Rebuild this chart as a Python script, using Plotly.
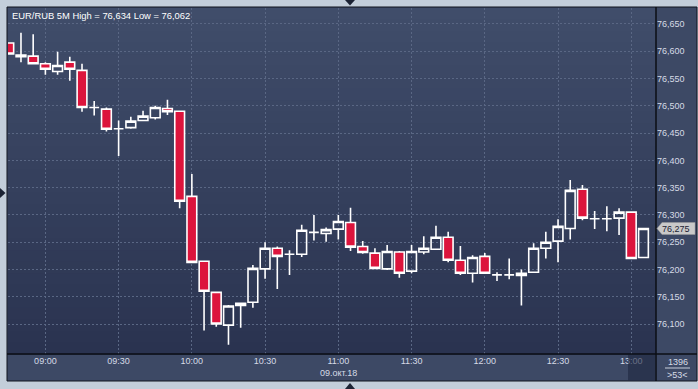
import plotly.graph_objects as go

# ---------------- data ----------------
day = "2018-10-09"
times = ["08:45", "08:50", "08:55", "09:00", "09:05", "09:10", "09:15", "09:20", "09:25",
         "09:30", "09:35", "09:40", "09:45", "09:50", "09:55", "10:00", "10:05", "10:10",
         "10:15", "10:20", "10:25", "10:30", "10:35", "10:40", "10:45", "10:50", "10:55",
         "11:00", "11:05", "11:10", "11:15", "11:20", "11:25", "11:30", "11:35", "11:40",
         "11:45", "11:50", "11:55", "12:00", "12:05", "12:10", "12:15", "12:20", "12:25",
         "12:30", "12:35", "12:40", "12:45", "12:50", "12:55", "13:00", "13:05"]
open_ = [76.615, 76.593, 76.591, 76.577, 76.563, 76.580, 76.565, 76.497, 76.494,
         76.458, 76.460, 76.473, 76.478, 76.495, 76.490, 76.334, 76.215, 76.158,
         76.098, 76.134, 76.140, 76.201, 76.239, 76.228, 76.228, 76.268, 76.266,
         76.274, 76.286, 76.242, 76.230, 76.201, 76.232, 76.197, 76.232, 76.237,
         76.259, 76.217, 76.193, 76.224, 76.190, 76.190, 76.189, 76.195, 76.239,
         76.252, 76.275, 76.347, 76.293, 76.293, 76.294, 76.305, 76.222]
high = [76.615, 76.634, 76.631, 76.580, 76.599, 76.590, 76.577, 76.509, 76.497,
        76.473, 76.480, 76.491, 76.500, 76.511, 76.490, 76.375, 76.215, 76.158,
        76.135, 76.138, 76.208, 76.250, 76.242, 76.235, 76.282, 76.300, 76.277,
        76.300, 76.313, 76.252, 76.239, 76.245, 76.234, 76.245, 76.261, 76.280,
        76.269, 76.243, 76.226, 76.230, 76.195, 76.220, 76.200, 76.248, 76.269,
        76.292, 76.364, 76.355, 76.307, 76.316, 76.312, 76.305, 76.275]
low = [76.595, 76.580, 76.577, 76.557, 76.557, 76.546, 76.489, 76.482, 76.453,
       76.408, 76.458, 76.473, 76.475, 76.483, 76.312, 76.213, 76.088, 76.095,
       76.062, 76.093, 76.130, 76.183, 76.164, 76.190, 76.223, 76.253, 76.251,
       76.255, 76.234, 76.229, 76.202, 76.199, 76.185, 76.193, 76.228, 76.237,
       76.213, 76.190, 76.176, 76.193, 76.179, 76.182, 76.134, 76.195, 76.220,
       76.213, 76.255, 76.290, 76.274, 76.270, 76.263, 76.220, 76.222]
close = [76.595, 76.590, 76.577, 76.567, 76.574, 76.567, 76.497, 76.497, 76.457,
         76.458, 76.472, 76.481, 76.497, 76.489, 76.325, 76.213, 76.160, 76.100,
         76.133, 76.138, 76.202, 76.239, 76.224, 76.228, 76.272, 76.268, 76.273,
         76.288, 76.241, 76.231, 76.202, 76.233, 76.193, 76.233, 76.239, 76.259,
         76.217, 76.193, 76.222, 76.193, 76.190, 76.190, 76.193, 76.239, 76.250,
         76.279, 76.345, 76.294, 76.293, 76.293, 76.305, 76.220, 76.275]

y_ticks = [76.10, 76.15, 76.20, 76.25, 76.30, 76.35, 76.40, 76.45, 76.50, 76.55, 76.60, 76.65]
title_text = "EUR/RUB 5M High = 76,634 Low = 76,062"
date_label = "09.окт.18"
last_price_text = "76,275"
count_text = "1396"
bars_text = ">53<"

x = [f"{day} {t}:00" for t in times]

# ---------------- geometry helpers (pixels -> paper) ----------------
W, H = 698, 389
L, R, T, B = 8, 656, 8, 354


def px(p):
    return (p - L) / (R - L)


def py(p):
    return (B - p) / (B - T)


FONT = "Liberation Sans, Arial, sans-serif"
TXT = "#d6dbe6"
GRID = "#5a6784"
STRIP = "#3d4965"

fig = go.Figure()
fig.add_trace(go.Candlestick(
    x=x, open=open_, high=high, low=low, close=close,
    increasing=dict(line=dict(color="#ffffff", width=1.6), fillcolor="rgba(0,0,0,0)"),
    decreasing=dict(line=dict(color="#ffffff", width=1.6), fillcolor="#dc143c"),
    whiskerwidth=0, hoverinfo="skip", showlegend=False,
))

shapes = []
# outer dark panel (axis strips colour)
shapes.append(dict(type="rect", xref="paper", yref="paper", x0=px(7), x1=px(697), y0=py(381), y1=py(7),
                   fillcolor=STRIP, line=dict(color="#11151f", width=1), layer="below"))
# gradient plot background
top_c = (64, 77, 106)
bot_c = (42, 51, 80)
N = 30
for i in range(N):
    f = (i + 0.5) / N
    c = tuple(round(top_c[k] + (bot_c[k] - top_c[k]) * f) for k in range(3))
    y0 = T + (B - T) * i / N
    y1 = T + (B - T) * (i + 1) / N
    shapes.append(dict(type="rect", xref="paper", yref="paper", x0=0, x1=1, y0=py(y1) - 0.002, y1=py(y0),
                       fillcolor="rgb(%d,%d,%d)" % c, line=dict(width=0), layer="below"))
# separators
shapes.append(dict(type="line", xref="paper", yref="paper", x0=px(656), x1=px(656), y0=py(381), y1=py(7),
                   line=dict(color="#0b0e15", width=1.5), layer="above"))
shapes.append(dict(type="line", xref="paper", yref="paper", x0=px(7), x1=px(697), y0=py(354), y1=py(354),
                   line=dict(color="#0b0e15", width=1.5), layer="above"))
# darker box in x strip near right
shapes.append(dict(type="rect", xref="paper", yref="paper", x0=px(628), x1=px(655), y0=py(380.5), y1=py(355),
                   fillcolor="#1e2740", opacity=0.6, line=dict(width=0), layer="above"))
# line between count texts
shapes.append(dict(type="line", xref="paper", yref="paper", x0=px(665), x1=px(690), y0=py(368), y1=py(368),
                   line=dict(color="#c8cfdc", width=1), layer="above"))
# last price pointer label
path = "M %f,%f L %f,%f L %f,%f L %f,%f L %f,%f Z" % (
    px(657), py(228.5), px(662), py(222.5), px(695), py(222.5), px(695), py(234.5), px(662), py(234.5))
shapes.append(dict(type="path", xref="paper", yref="paper", path=path,
                   fillcolor="#c9c9c9", line=dict(color="#9a9a9a", width=0.5), layer="above"))
# navigation triangles
def tri(a, b, c):
    return "M %f,%f L %f,%f L %f,%f Z" % (px(a[0]), py(a[1]), px(b[0]), py(b[1]), px(c[0]), py(c[1]))

for p in [tri((345, 0), (355, 0), (350, 5.5)),
          tri((345, 389), (355, 389), (350, 383)),
          tri((0, 188), (0, 198), (5.5, 193))]:
    shapes.append(dict(type="path", xref="paper", yref="paper", path=p,
                       fillcolor="#1c2334", line=dict(width=0), layer="above"))

annotations = [
    dict(text=title_text, xref="paper", yref="paper", x=px(10), y=py(15.5), xanchor="left", yanchor="middle",
         showarrow=False, font=dict(family=FONT, size=9.4, color="#ffffff")),
    dict(text=date_label, xref="x", yref="paper", x=f"{day} 11:00:00", y=py(373.5), xanchor="center",
         yanchor="middle", showarrow=False, font=dict(family=FONT, size=9, color=TXT)),
    dict(text=last_price_text, xref="paper", yref="paper", x=px(660), y=py(228.5), xanchor="left",
         yanchor="middle", showarrow=False, font=dict(family=FONT, size=9, color="#1b2233")),
    dict(text=count_text, xref="paper", yref="paper", x=px(677.5), y=py(361.5), xanchor="center",
         yanchor="middle", showarrow=False, font=dict(family=FONT, size=9, color=TXT)),
    dict(text=bars_text, xref="paper", yref="paper", x=px(677.5), y=py(374.5), xanchor="center",
         yanchor="middle", showarrow=False, font=dict(family=FONT, size=9, color=TXT)),
]

fig.update_layout(
    width=W, height=H,
    margin=dict(l=L, r=W - R, t=T, b=H - B, pad=0),
    paper_bgcolor="#c3ceda", plot_bgcolor="#35405c",
    separators=", ",
    boxgap=0.2, boxgroupgap=0,
    showlegend=False, hovermode=False,
    shapes=shapes, annotations=annotations,
    xaxis=dict(type="date", range=["2018-10-09 08:44:41", "2018-10-09 13:10:08"],
               tickformat="%H:%M", dtick=1800000, tick0="2018-10-09 09:00:00",
               showgrid=True, gridcolor=GRID, griddash="2px,2px", gridwidth=1,
               zeroline=False, showline=False, ticks="",
               tickfont=dict(family=FONT, size=9, color=TXT),
               rangeslider=dict(visible=False), fixedrange=True),
    yaxis=dict(side="right", range=[76.0450, 76.6793], tickvals=y_ticks, tickformat=".3f",
               showgrid=True, gridcolor=GRID, griddash="2px,2px", gridwidth=1,
               zeroline=False, showline=False, ticks="",
               tickfont=dict(family=FONT, size=9, color=TXT), fixedrange=True),
)

fig.write_html("out.html")
